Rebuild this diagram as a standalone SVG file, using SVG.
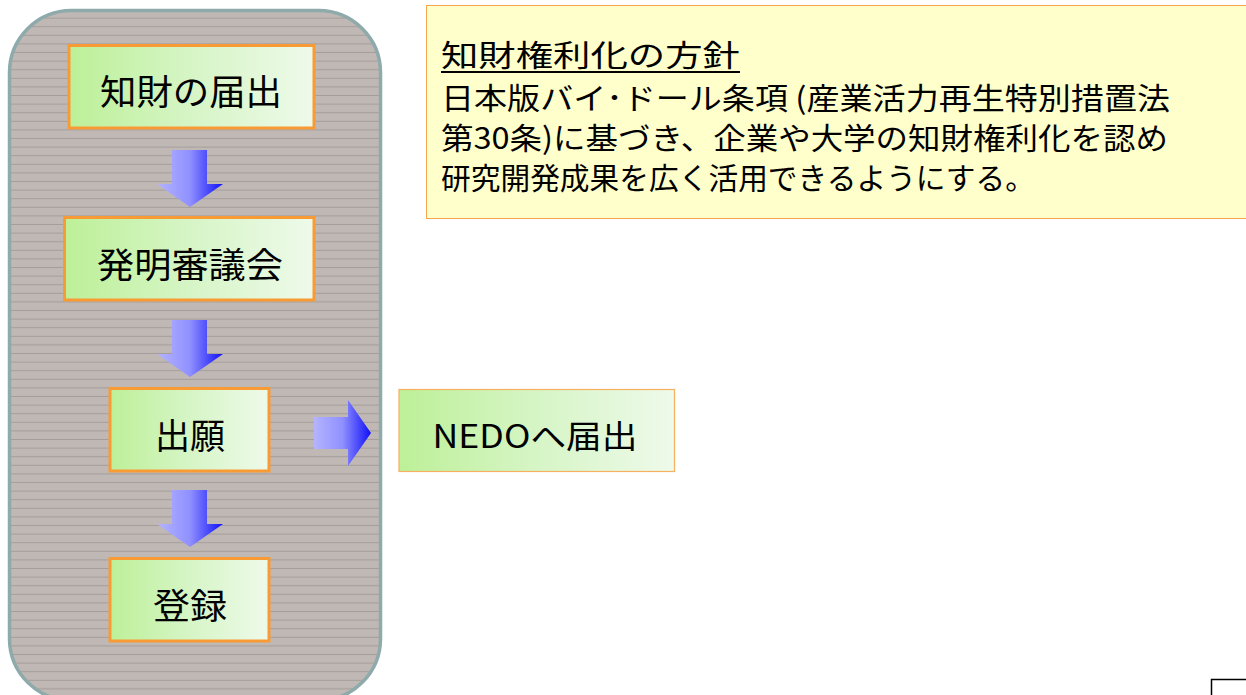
<svg xmlns="http://www.w3.org/2000/svg" width="1246" height="695" viewBox="0 0 1246 695">
<defs>
<style>
.jp{font-family:"Noto Sans CJK JP","Noto Sans",sans-serif;fill:#000}
.node{font-size:35px;text-anchor:middle;dominant-baseline:central}
.box{stroke:#f89b35;stroke-width:3;fill:url(#gGreen)}
.darr{fill:url(#gBlue)}
</style>
<linearGradient id="gGreen" x1="0" y1="0" x2="1" y2="0">
<stop offset="0" stop-color="#bdf098"/>
<stop offset="0.5" stop-color="#d6f5c6"/>
<stop offset="1" stop-color="#eefaea"/>
</linearGradient>
<linearGradient id="gBlue" x1="0" y1="0" x2="1" y2="0">
<stop offset="0" stop-color="#b4b4ff"/>
<stop offset="0.5" stop-color="#9090ff"/>
<stop offset="1" stop-color="#1010f8"/>
</linearGradient>
<pattern id="stripes" x="0" y="10" width="20" height="8.6" patternUnits="userSpaceOnUse">
<rect width="20" height="8.6" fill="#c0b8b4"/>
<rect y="7.6" width="20" height="1" fill="#a59d99"/>
</pattern>
</defs>
<rect width="1246" height="695" fill="#fff"/>
<g id="panel">
<rect x="9.5" y="10.5" width="371" height="690" rx="62" ry="62" fill="url(#stripes)" stroke="#8eaaab" stroke-width="3.5"/>
</g>
<g id="policy">
<rect x="426.5" y="5.5" width="830" height="213" fill="#ffffcc" stroke="#f6a650" stroke-width="1"/>
<text class="jp" x="441" y="66" font-size="30" textLength="299" lengthAdjust="spacingAndGlyphs">知財権利化の方針</text>
<line x1="441" y1="72" x2="740" y2="72" stroke="#000" stroke-width="2"/>
<text class="jp" x="441" y="109" font-size="30" textLength="729" lengthAdjust="spacingAndGlyphs">日本版バイ･ドール条項 (産業活力再生特別措置法</text>
<text class="jp" x="441" y="149" font-size="30" textLength="727" lengthAdjust="spacingAndGlyphs">第30条)に基づき、企業や大学の知財権利化を認め</text>
<text class="jp" x="441" y="189" font-size="30" textLength="594" lengthAdjust="spacingAndGlyphs">研究開発成果を広く活用できるようにする。</text>
</g>
<g id="node-todokede">
<rect class="box" x="69" y="45.5" width="245" height="82.5"/>
<text class="jp node" x="191" y="89" textLength="182" lengthAdjust="spacingAndGlyphs">知財の届出</text>
</g>
<g id="node-shingikai">
<rect class="box" x="64.5" y="217.5" width="249.5" height="82.5"/>
<text class="jp node" x="190" y="262" textLength="186" lengthAdjust="spacingAndGlyphs">発明審議会</text>
</g>
<g id="node-shutsugan">
<rect class="box" x="110" y="388.5" width="159" height="82.5"/>
<text class="jp node" x="190" y="433" textLength="70" lengthAdjust="spacingAndGlyphs">出願</text>
</g>
<g id="node-toroku">
<rect class="box" x="110" y="558.5" width="159" height="82.5"/>
<text class="jp node" x="190" y="603" textLength="74" lengthAdjust="spacingAndGlyphs">登録</text>
</g>
<g id="node-nedo">
<rect x="399" y="389.5" width="275.5" height="82" fill="url(#gGreen)" stroke="#f6b060" stroke-width="1.2"/>
<text class="jp" x="535" y="434" font-size="32" text-anchor="middle" dominant-baseline="central" textLength="205" lengthAdjust="spacingAndGlyphs">NEDOへ届出</text>
</g>
<g id="connectors">
<polygon class="darr" points="172,150 207,150 207,184 223,184 190,207 157,184 172,184"/>
<polygon class="darr" points="172,320 207,320 207,354 223,354 190,377 157,354 172,354"/>
<polygon class="darr" points="172,490 207,490 207,524 223,524 190,547 157,524 172,524"/>
<polygon class="darr" points="314,417 348,417 348,400 371,433 348,466 348,449 314,449"/>
</g>
<g id="page-corner">
<rect x="1211.5" y="679.5" width="40" height="30" fill="#fff" stroke="#000" stroke-width="1.5"/>
</g>
</svg>
